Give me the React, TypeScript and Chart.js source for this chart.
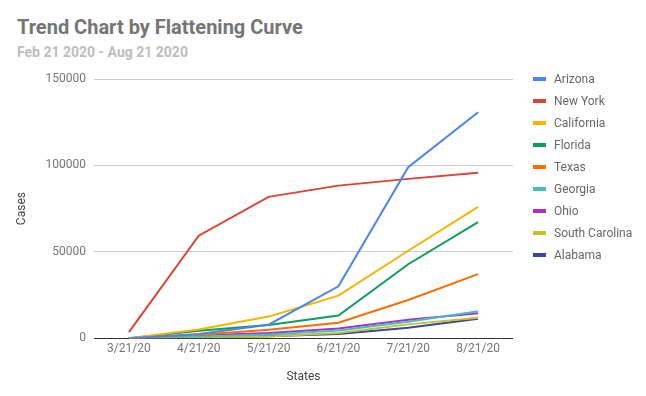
import React, { useEffect, useRef } from "react";
import { Chart, registerables } from "chart.js";

Chart.register(...registerables);

const categories = ["3/21/20", "4/21/20", "5/21/20", "6/21/20", "7/21/20", "8/21/20"];
const arizona = [0, 2500, 7800, 30000, 99000, 130800];
const newYork = [3500, 59300, 81800, 88300, 92200, 95700];
const california = [0, 5000, 12500, 24600, 50600, 76000];
const florida = [0, 4300, 7600, 13100, 42800, 67200];
const texas = [0, 2000, 4900, 9000, 22100, 37100];
const georgia = [0, 1000, 2200, 4500, 9500, 15600];
const ohio = [0, 1500, 3000, 5600, 10700, 14400];
const southCarolina = [0, 500, 1000, 3000, 8000, 11900];
const alabama = [0, 500, 1200, 2500, 6000, 11300];
const seriesNames = ["Arizona", "New York", "California", "Florida", "Texas", "Georgia", "Ohio", "South Carolina", "Alabama"];
const seriesColors = ["#4a86e8", "#db4437", "#f4b400", "#0f9d58", "#ff6d01", "#46bdc6", "#ab30c4", "#c2c22f", "#3b479c"];
const yTicks = [0, 50000, 100000, 150000];

const FONT = "Roboto, 'Noto Sans', Arial, sans-serif";

export default function App() {
  const ref = useRef<HTMLCanvasElement>(null);
  useEffect(() => {
    document.body.style.margin = "0";
    const values = [arizona, newYork, california, florida, texas, georgia, ohio, southCarolina, alabama];
    const chart = new Chart(ref.current!, {
      type: "line",
      data: {
        labels: categories,
        datasets: values.map((v, i) => ({
          label: seriesNames[i],
          data: v,
          borderColor: seriesColors[i],
          backgroundColor: seriesColors[i],
          borderWidth: 2,
          pointRadius: 0,
          tension: 0,
          fill: false,
        })),
      },
      options: {
        animation: false,
        responsive: false,
        maintainAspectRatio: false,
        layout: { padding: { left: 14, right: 133, top: 79, bottom: 12 } },
        plugins: {
          legend: { display: false },
          tooltip: { enabled: false },
          title: { display: false },
        },
        scales: {
          x: {
            offset: true,
            grid: { display: false, drawTicks: false },
            border: { display: false },
            ticks: { color: "#757575", font: { family: FONT, size: 12 }, padding: 4, maxRotation: 0 },
            title: { display: true, text: "States", color: "#444", font: { family: FONT, size: 12 }, padding: { top: 9, bottom: 0 } },
          },
          y: {
            min: 0,
            max: 150000,
            afterBuildTicks: (s: any) => { s.ticks = yTicks.map((v) => ({ value: v })); },
            afterFit: (s: any) => { s.width = 80; },
            grid: {
              drawTicks: false,
              color: (ctx: any) => (ctx.tick && ctx.tick.value === 0 ? "#333" : "#cccccc"),
              lineWidth: 1,
            },
            border: { display: false },
            ticks: {
              color: "#757575",
              font: { family: FONT, size: 12 },
              padding: 8,
              callback: (v: any) => String(v),
            },
            title: { display: true, text: "Cases", color: "#444", font: { family: FONT, size: 12 }, padding: { top: 1, bottom: 0 } },
          },
        },
      },
    });
    return () => chart.destroy();
  }, []);

  return (
    <div style={{ position: "relative", width: 646, height: 396, fontFamily: FONT, background: "#fff" }}>
      <div style={{ position: "absolute", left: 17, top: 15, fontSize: 20, fontWeight: 700, color: "#757575", whiteSpace: "nowrap" }}>
        Trend Chart by Flattening Curve
      </div>
      <div style={{ position: "absolute", left: 17, top: 44, fontSize: 14, fontWeight: 700, color: "#bdbdbd", whiteSpace: "nowrap" }}>
        Feb 21 2020 - Aug 21 2020
      </div>
      <canvas ref={ref} width={646} height={396} style={{ position: "absolute", left: 0, top: 0, width: 646, height: 396 }} />
      <div style={{ position: "absolute", left: 533, top: 68 }}>
        {seriesNames.map((n, i) => (
          <div key={n} style={{ display: "flex", alignItems: "center", height: 22, marginTop: 0 }}>
            <span style={{ display: "inline-block", width: 13, height: 4, background: seriesColors[i], marginRight: 8 }} />
            <span style={{ fontSize: 12, color: "#666", whiteSpace: "nowrap", lineHeight: "16px" }}>{n}</span>
          </div>
        ))}
      </div>
    </div>
  );
}
